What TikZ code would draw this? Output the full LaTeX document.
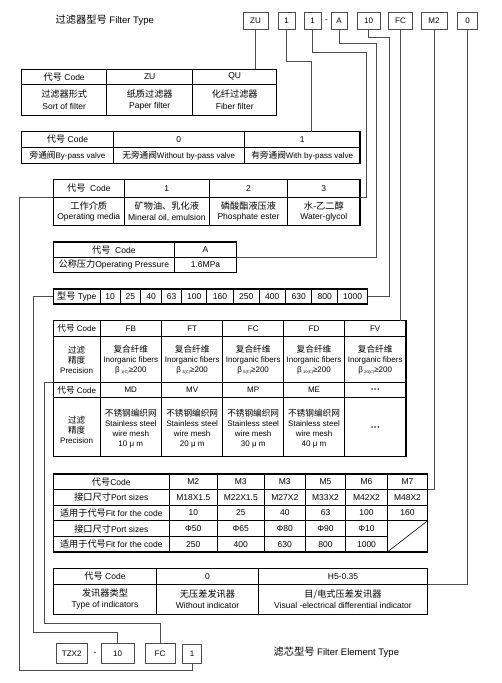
\documentclass[tikz,border=0pt]{standalone}
\usepackage{fontspec}
\setmainfont{Liberation Sans}
\newfontfamily\zhfont[Scale=1.08]{Noto Sans CJK SC}
\newcommand{\zhtxt}[1]{{\zhfont #1}}
\newcommand{\betarat}[1]{β\,{\fontsize{4}{4}\selectfont\raisebox{-1pt}{#1}}≥200}

\begin{document}
\begin{tikzpicture}[x=1pt,y=-1pt,
  codebox/.style={draw=black!70,line width=0.8pt,inner sep=0pt,minimum height=17pt,font=\fontsize{8}{9}\selectfont},
  wire/.style={draw=black!70,line width=0.8pt},
  outer/.style={line width=1.2pt},
  inner/.style={line width=0.6pt},
  cell/.style={inner sep=0pt,align=center,font=\fontsize{8.5}{10.5}\selectfont},
  small/.style={inner sep=0pt,align=center,font=\fontsize{8}{10}\selectfont}]
\useasboundingbox (0,0) rectangle (502,683);

% filter type code
\node[anchor=west,font=\fontsize{9.5}{11}\selectfont] (title) at (52,20.5) {\zhtxt{过滤器型号}\ Filter Type};
\node[codebox,minimum width=25pt] (hZU) at (255.5,20.5) {ZU};
\node[codebox,minimum width=17pt] (hByp) at (286.5,20.5) {1};
\node[codebox,minimum width=17pt] (hMed) at (312.5,20.5) {1};
\node[cell] (hDash) at (326.5,21) {-};
\node[codebox,minimum width=16pt] (hPr) at (339,20.5) {A};
\node[codebox,minimum width=23pt] (hSz) at (368.5,20.5) {10};
\node[codebox,minimum width=24pt] (hPrec) at (400.5,20.5) {FC};
\node[codebox,minimum width=26pt] (hPort) at (434,20.5) {M2};
\node[codebox,minimum width=20pt] (hInd) at (467.5,20.5) {0};

% sort of filter
\draw[outer] (21.7,69.3) rectangle (276.7,115.5);
\draw[inner] (21.7,84.3) -- (276.7,84.3) (106.7,69.3) -- (106.7,115.5) (192.7,69.3) -- (192.7,115.5);
\node[cell] (sortA) at (64.2,76.8) {\zhtxt{代号} Code};
\node[cell] (sortB) at (149.7,76.8) {ZU};
\node[cell] (sortC) at (234.7,76.8) {QU};
\node[cell,font=\fontsize{8.5}{11.5}\selectfont] (sortD) at (64.2,99.9) {\zhtxt{过滤器形式}\\Sort of filter};
\node[cell,font=\fontsize{8.5}{11.5}\selectfont] (sortE) at (149.7,99.9) {\zhtxt{纸质过滤器}\\Paper filter};
\node[cell,font=\fontsize{8.5}{11.5}\selectfont] (sortF) at (234.7,99.9) {\zhtxt{化纤过滤器}\\Fiber filter};
\coordinate (sortIn) at (255.5,69.3);

% by-pass valve
\draw[outer] (21.7,131.7) rectangle (360,163.3);
\draw[inner] (21.7,147.3) -- (360,147.3) (113.3,131.7) -- (113.3,163.3) (244.3,131.7) -- (244.3,163.3);
\node[cell] (bypA) at (67.5,139.5) {\zhtxt{代号} Code};
\node[cell] (bypB) at (178.8,139.5) {0};
\node[cell] (bypC) at (302.2,139.5) {1};
\node[small] (bypD) at (67.5,155.3) {\zhtxt{旁通阀}By-pass valve};
\node[small] (bypE) at (178.8,155.3) {\zhtxt{无旁通阀}Without by-pass valve};
\node[small] (bypF) at (302.2,155.3) {\zhtxt{有旁通阀}With by-pass valve};
\coordinate (bypIn) at (311.5,131.7);

% operating media
\draw[outer] (53.3,179.3) rectangle (360,225.7);
\draw[inner] (53.3,197.3) -- (360,197.3) (124.3,179.3) -- (124.3,225.7) (209.3,179.3) -- (209.3,225.7) (287.7,179.3) -- (287.7,225.7);
\node[cell] (medA) at (88.8,188.3) {\zhtxt{代号}\ \ Code};
\node[cell] (medB) at (166.8,188.3) {1};
\node[cell] (medC) at (248.5,188.3) {2};
\node[cell] (medD) at (323.8,188.3) {3};
\node[cell] (medE) at (88.8,211.5) {\zhtxt{工作介质}\\Operating media};
\node[cell] (medF) at (166.8,211.5) {\zhtxt{矿物油、乳化液}\\Mineral oil, emulsion};
\node[cell] (medG) at (248.5,211.5) {\zhtxt{磷酸酯液压液}\\Phosphate ester};
\node[cell] (medH) at (323.8,211.5) {\zhtxt{水-乙二醇}\\Water-glycol};
\coordinate (medIn) at (360,197.3);
\coordinate (medOut) at (53.3,197.3);

% operating pressure
\draw[outer] (53.3,242) rectangle (236.7,272.7);
\draw[inner] (53.3,257.3) -- (236.7,257.3) (174.3,242) -- (174.3,272.7);
\node[cell] (prA) at (113.8,249.7) {\zhtxt{代号}\ \ Code};
\node[cell] (prB) at (205.5,249.7) {A};
\node[cell] (prC) at (113.8,265) {\zhtxt{公称压力}Operating Pressure};
\node[cell] (prD) at (205.5,265) {1.6MPa};
\coordinate (prIn) at (236.7,257.3);

% size
\draw[outer] (53.3,289) rectangle (367.7,304);
\draw[inner] (100,289) -- (100,304) (120,289) -- (120,304) (140.7,289) -- (140.7,304)
  (161.3,289) -- (161.3,304) (181.7,289) -- (181.7,304) (206.7,289) -- (206.7,304)
  (233.3,289) -- (233.3,304) (259,289) -- (259,304) (285.7,289) -- (285.7,304)
  (311.7,289) -- (311.7,304) (337.7,289) -- (337.7,304);
\node[cell] (szA) at (76.7,296.5) {\zhtxt{型号} Type};
\node[cell] at (110,296.5) {10};
\node[cell] at (130.3,296.5) {25};
\node[cell] at (151,296.5) {40};
\node[cell] at (171.5,296.5) {63};
\node[cell] at (194.2,296.5) {100};
\node[cell] at (220,296.5) {160};
\node[cell] at (246.2,296.5) {250};
\node[cell] at (272.3,296.5) {400};
\node[cell] at (298.7,296.5) {630};
\node[cell] at (324.7,296.5) {800};
\node[cell] at (352.7,296.5) {1000};
\coordinate (szIn) at (367.7,296.5);
\coordinate (szOut) at (53.3,296.5);

% precision
\draw[outer] (53.3,320.7) rectangle (406,456.7);
\draw[inner] (53.3,336.7) -- (406,336.7) (53.3,382.3) -- (406,382.3) (53.3,397.3) -- (406,397.3)
  (100,320.7) -- (100,456.7) (161.7,320.7) -- (161.7,456.7) (222.7,320.7) -- (222.7,456.7)
  (283.7,320.7) -- (283.7,456.7) (344.3,320.7) -- (344.3,456.7);
\node[small] (precA) at (76.7,328.7) {\zhtxt{代号} Code};
\node[small] at (130.8,328.7) {FB};
\node[small] at (192.2,328.7) {FT};
\node[small] at (253.2,328.7) {FC};
\node[small] at (314,328.7) {FD};
\node[small] at (375.2,328.7) {FV};
\node[small] (precB) at (76.7,360) {\zhtxt{过滤}\\\zhtxt{精度}\\Precision};
\node[small] at (130.8,360) {\zhtxt{复合纤维}\\Inorganic fibers\\\betarat{1(C)}};
\node[small] at (192.2,360) {\zhtxt{复合纤维}\\Inorganic fibers\\\betarat{3(C)}};
\node[small] at (253.2,360) {\zhtxt{复合纤维}\\Inorganic fibers\\\betarat{5(C)}};
\node[small] at (314,360) {\zhtxt{复合纤维}\\Inorganic fibers\\\betarat{10(C)}};
\node[small] at (375.2,360) {\zhtxt{复合纤维}\\Inorganic fibers\\\betarat{20(C)}};
\node[small] (precC) at (76.7,389.8) {\zhtxt{代号} Code};
\node[small] at (130.8,389.8) {MD};
\node[small] at (192.2,389.8) {MV};
\node[small] at (253.2,389.8) {MP};
\node[small] at (314,389.8) {ME};
\node[small] at (375.2,389.8) {{\fontsize{6}{6}\selectfont •\,•\,•}};
\node[small] (precD) at (76.7,430) {\zhtxt{过滤}\\\zhtxt{精度}\\Precision};
\node[small] at (130.8,428.5) {\zhtxt{不锈钢编织网}\\Stainless steel\\wire mesh\\10 μ m};
\node[small] at (192.2,428.5) {\zhtxt{不锈钢编织网}\\Stainless steel\\wire mesh\\20 μ m};
\node[small] at (253.2,428.5) {\zhtxt{不锈钢编织网}\\Stainless steel\\wire mesh\\30 μ m};
\node[small] at (314,428.5) {\zhtxt{不锈钢编织网}\\Stainless steel\\wire mesh\\40 μ m};
\node[small] at (375.2,428.5) {{\fontsize{6}{6}\selectfont •\,•\,•}};
\coordinate (precIn) at (400.5,320.7);
\coordinate (precOut) at (53.3,382.3);

% port sizes
\draw[outer] (53.3,474) rectangle (427.7,552);
\draw[inner] (53.3,489.3) -- (427.7,489.3) (53.3,505.3) -- (427.7,505.3) (53.3,520.7) -- (427.7,520.7) (53.3,536.7) -- (387.3,536.7)
  (169.3,474) -- (169.3,552) (217.3,474) -- (217.3,552) (264.3,474) -- (264.3,552)
  (305.3,474) -- (305.3,552) (345.7,474) -- (345.7,552) (387.3,474) -- (387.3,552);
\draw[inner] (387.3,552) -- (427.7,520.7);
\node[cell] (portA) at (111.3,481.7) {\zhtxt{代号}Code};
\node[cell] at (193.3,481.7) {M2};
\node[cell] at (240.8,481.7) {M3};
\node[cell] at (284.8,481.7) {M3};
\node[cell] at (325.5,481.7) {M5};
\node[cell] at (366.5,481.7) {M6};
\node[cell] at (407.5,481.7) {M7};
\node[cell] (portB) at (111.3,497.3) {\zhtxt{接口尺寸}Port sizes};
\node[cell] at (193.3,497.3) {M18X1.5};
\node[cell] at (240.8,497.3) {M22X1.5};
\node[cell] at (284.8,497.3) {M27X2};
\node[cell] at (325.5,497.3) {M33X2};
\node[cell] at (366.5,497.3) {M42X2};
\node[cell] at (407.5,497.3) {M48X2};
\node[cell] (portC) at (111.3,513) {\zhtxt{适用于代号}Fit for the code};
\node[cell] at (193.3,513) {10};
\node[cell] at (240.8,513) {25};
\node[cell] at (284.8,513) {40};
\node[cell] at (325.5,513) {63};
\node[cell] at (366.5,513) {100};
\node[cell] at (407.5,513) {160};
\node[cell] (portD) at (111.3,528.7) {\zhtxt{接口尺寸}Port sizes};
\node[cell] at (193.3,528.7) {Φ50};
\node[cell] at (240.8,528.7) {Φ65};
\node[cell] at (284.8,528.7) {Φ80};
\node[cell] at (325.5,528.7) {Φ90};
\node[cell] at (366.5,528.7) {Φ10};
\node[cell] (portE) at (111.3,544.3) {\zhtxt{适用于代号}Fit for the code};
\node[cell] at (193.3,544.3) {250};
\node[cell] at (240.8,544.3) {400};
\node[cell] at (284.8,544.3) {630};
\node[cell] at (325.5,544.3) {800};
\node[cell] at (366.5,544.3) {1000};
\coordinate (portIn) at (427.7,489.3);

% indicator
\draw[outer] (53.3,568.3) rectangle (427.7,614.3);
\draw[inner] (53.3,584.3) -- (427.7,584.3) (156.7,568.3) -- (156.7,614.3) (258.3,568.3) -- (258.3,614.3);
\node[cell] (indA) at (105,576.3) {\zhtxt{代号} Code};
\node[cell] (indB) at (207.5,576.3) {0};
\node[cell] (indC) at (343,576.3) {H5-0.35};
\node[cell,font=\fontsize{8.5}{11}\selectfont] (indD) at (105,599.3) {\zhtxt{发讯器类型}\\Type of indicators};
\node[cell,font=\fontsize{8.5}{11}\selectfont] (indE) at (207.5,599.3) {\zhtxt{无压差发讯器}\\Without indicator};
\node[cell,font=\fontsize{8.5}{11}\selectfont] (indF) at (343,599.3) {\zhtxt{目/电式压差发讯器}\\Visual -electrical differential indicator};
\coordinate (indIn) at (427.7,584.3);

% filter element type
\node[codebox,minimum width=31pt,minimum height=20pt] (eTZX) at (71.7,653.3) {TZX2};
\node[cell] (eDash) at (95,654) {-};
\node[codebox,minimum width=33pt,minimum height=20pt] (eSz) at (117.5,653.3) {10};
\node[codebox,minimum width=30pt,minimum height=20pt] (ePrec) at (160,653.3) {FC};
\node[codebox,minimum width=19pt,minimum height=19pt] (eMed) at (192.2,653.8) {1};
\node[anchor=west,font=\fontsize{9.5}{11}\selectfont] (eTitle) at (270,651.7) {\zhtxt{滤芯型号} Filter Element Type};

% connectors
\draw[wire] (hZU.south) -- (sortIn);
\draw[wire] (hByp.south) -- ++(0,32) -| (bypIn);
\draw[wire] (hMed.south) -- ++(0,23) -| ([xshift=6.7pt]medIn) -- (medIn);
\draw[wire] (hPr.south) -- ++(0,14) -| ([xshift=140pt]prIn) -- (prIn);
\draw[wire] (hSz.south) -- ++(0,8) -| ([xshift=21.6pt]szIn) -- (szIn);
\draw[wire] (hPrec.south) -- (precIn);
\draw[wire] (hPort.south) |- (portIn);
\draw[wire] (hInd.south) |- (indIn);
\draw[wire] (eSz.north) -- ++(0,-10.6) -| ([xshift=-20pt]szOut) -- (szOut);
\draw[wire] (ePrec.north) -- ++(0,-19.3) -| ([xshift=-9pt]precOut) -- (precOut);
\draw[wire] (eMed.south) -- ++(0,6.7) -| ([xshift=-34.3pt]medOut) -- (medOut);
\end{tikzpicture}
\end{document}
